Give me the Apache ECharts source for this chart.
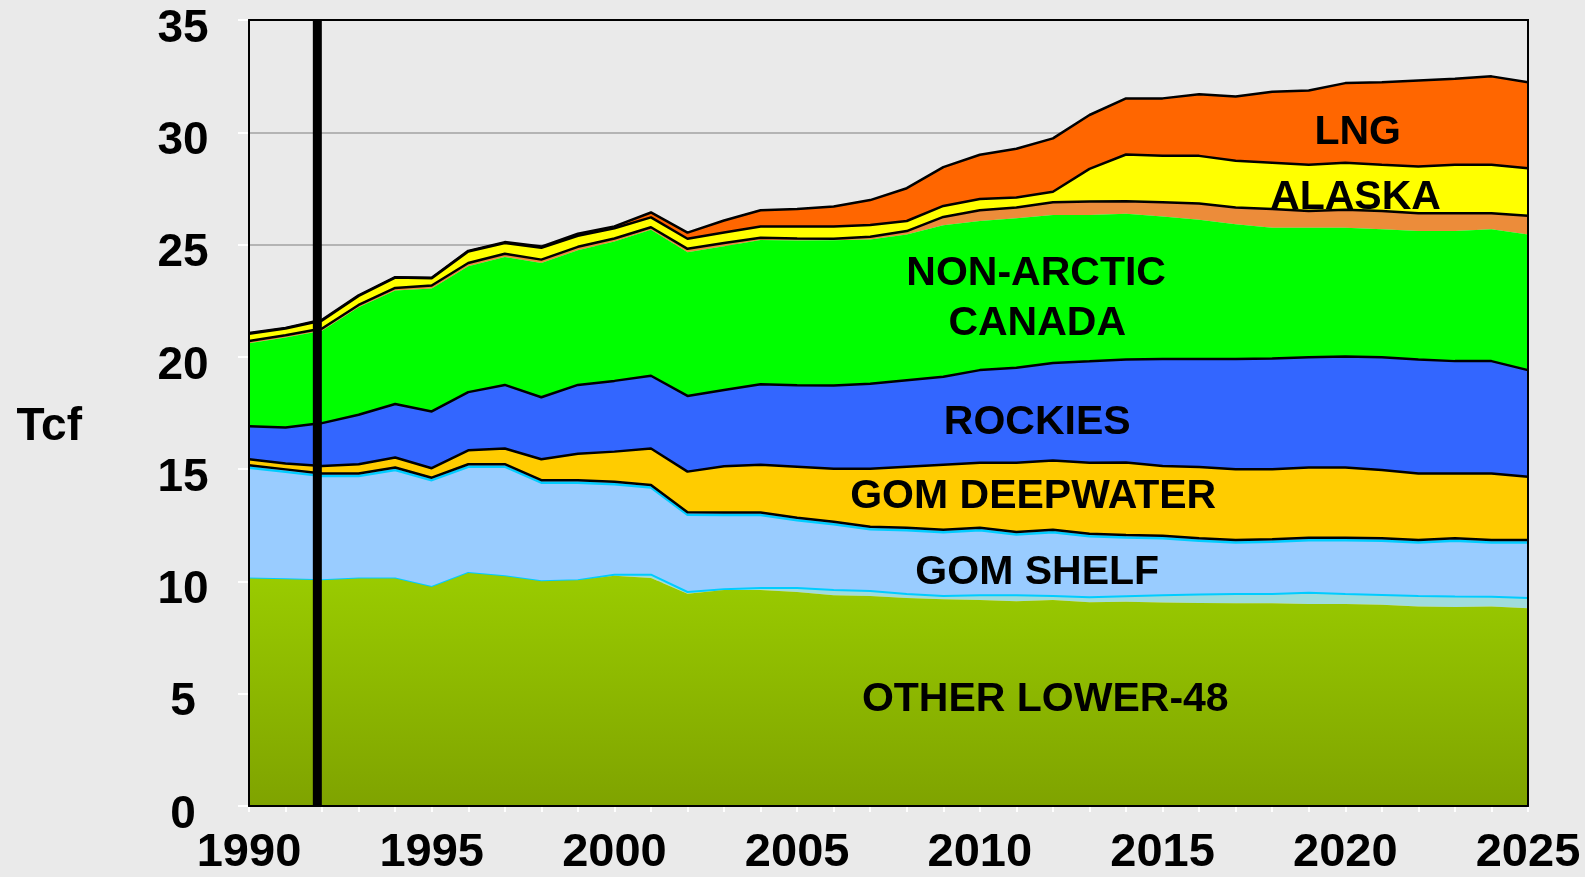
<!DOCTYPE html>
<html>
<head>
<meta charset="utf-8">
<script src="https://cdn.jsdelivr.net/npm/echarts@6/dist/echarts.min.js"></script>
<style>
html,body{margin:0;padding:0;background:#EAEAEA;}
#chart{width:1585px;height:877px;}
</style>
</head>
<body>
<div id="chart"></div>
<script>
// ---- DATA (Tcf) ----
const years = [1990,1991,1992,1993,1994,1995,1996,1997,1998,1999,
               2000,2001,2002,2003,2004,2005,2006,2007,2008,2009,
               2010,2011,2012,2013,2014,2015,2016,2017,2018,2019,
               2020,2021,2022,2023,2024,2025];

const otherLower48 = [10.13,10.10,10.05,10.13,10.13,9.75,10.38,10.23,10.01,10.05,
                      10.25,10.15,9.45,9.62,9.62,9.53,9.39,9.35,9.26,9.21,
                      9.17,9.12,9.17,9.07,9.10,9.06,9.04,9.03,9.03,9.00,
                      9.00,8.96,8.88,8.86,8.88,8.81];
const otherMinor = [0,0,0,0,0,0,0,0,0,0,
                    0.05,0.15,0.08,0.03,0.09,0.18,0.23,0.22,0.18,0.14,
                    0.22,0.27,0.18,0.23,0.24,0.32,0.38,0.41,0.41,0.50,
                    0.44,0.44,0.47,0.47,0.44,0.45];
const gomShelf = [5.04,4.89,4.76,4.68,4.94,4.87,4.84,4.99,4.50,4.46,
                  4.14,3.99,3.55,3.42,3.36,3.13,3.04,2.86,2.95,2.95,
                  3.00,2.81,2.95,2.82,2.73,2.65,2.50,2.41,2.44,2.45,
                  2.51,2.52,2.50,2.59,2.53,2.59];
const gomDeepwater = [0.27,0.26,0.33,0.41,0.45,0.42,0.62,0.70,0.93,1.18,
                      1.34,1.63,1.81,2.06,2.13,2.27,2.36,2.59,2.72,2.90,
                      2.90,3.09,3.08,3.17,3.23,3.11,3.17,3.14,3.11,3.12,
                      3.12,3.04,2.96,2.89,2.96,2.81];
const rockies = [1.47,1.60,1.91,2.20,2.38,2.53,2.59,2.83,2.76,3.06,
                 3.15,3.24,3.37,3.39,3.58,3.63,3.71,3.78,3.85,3.91,
                 4.12,4.22,4.35,4.51,4.58,4.77,4.82,4.92,4.94,4.91,
                 4.95,5.02,5.07,5.00,5.00,4.75];
const nonArcticCanada = [3.70,4.01,4.11,4.79,5.05,5.47,5.60,5.70,5.98,6.00,
                         6.21,6.50,6.40,6.41,6.42,6.44,6.46,6.43,6.49,6.75,
                         6.64,6.66,6.59,6.52,6.49,6.34,6.19,5.99,5.82,5.77,
                         5.73,5.70,5.72,5.79,5.87,6.04];
const arcticCanada = [0.10,0.10,0.10,0.10,0.12,0.14,0.15,0.14,0.15,0.15,
                      0.13,0.11,0.15,0.14,0.10,0.09,0.07,0.12,0.15,0.37,
                      0.48,0.48,0.56,0.60,0.56,0.64,0.73,0.75,0.83,0.75,
                      0.80,0.82,0.80,0.80,0.72,0.83];
const alaska = [0.32,0.30,0.36,0.40,0.46,0.32,0.51,0.48,0.53,0.49,
                0.46,0.44,0.45,0.47,0.50,0.53,0.54,0.52,0.45,0.49,
                0.50,0.45,0.47,1.45,2.08,2.06,2.12,2.08,2.06,2.05,
                2.09,2.05,2.08,2.15,2.15,2.12];
const lng = [0.03,0.03,0.03,0.03,0.02,0.02,0.03,0.04,0.05,0.09,
             0.08,0.22,0.27,0.53,0.73,0.78,0.90,1.11,1.46,1.73,
             1.97,2.17,2.38,2.40,2.50,2.56,2.74,2.86,3.17,3.31,
             3.55,3.68,3.83,3.83,3.94,3.83];

const dividerYear = 1991.87;
const yTicks = [0,5,10,15,20,25,30,35];
const xTickStep = 5;

// in-area text labels (anchored in data coordinates)
const areaLabels = [
  {name:'LNG', at:[2020.34, 29.99]},
  {name:'ALASKA', at:[2020.28, 27.07]},
  {name:'NON-ARCTIC', at:[2011.54, 23.69]},
  {name:'CANADA', at:[2011.57, 21.48]},
  {name:'ROCKIES', at:[2011.57, 17.07]},
  {name:'GOM DEEPWATER', at:[2011.46, 13.79]},
  {name:'GOM SHELF', at:[2011.57, 10.41]},
  {name:'OTHER LOWER-48', at:[2011.79, 4.74]}
];

// ---- CHART ----
const FONT = '"Liberation Sans", Arial, sans-serif';
const firstYear = years[0], lastYear = years[years.length - 1];
const yMin = yTicks[0], yMax = yTicks[yTicks.length - 1];

const layers = [
  {name:'Other Lower-48', values: otherLower48,
   fill: new echarts.graphic.LinearGradient(0,0,0,1,[{offset:0,color:'#9ACC00'},{offset:1,color:'#7FA300'}]),
   line: null},
  {name:'Other', values: otherMinor, fill:'#A0DCDC', line:{color:'#00CCFF', width:2}},
  {name:'GOM Shelf', values: gomShelf, fill:'#99CCFF',
   line:{color:'#000', width:2.5, shadowColor:'#00CCFF', shadowOffsetY:2.5, shadowBlur:0}},
  {name:'GOM Deepwater', values: gomDeepwater, fill:'#FFCC00', line:{color:'#000', width:2.5}},
  {name:'Rockies', values: rockies, fill:'#3366FF', line:{color:'#000', width:2.5}},
  {name:'Non-Arctic Canada', values: nonArcticCanada, fill:'#00FF00', line:null},
  {name:'Arctic Canada', values: arcticCanada, fill:'#EC8C3A', line:{color:'#000', width:2.5}},
  {name:'Alaska', values: alaska, fill:'#FFFF00', line:{color:'#000', width:2.5}},
  {name:'LNG', values: lng, fill:'#FF6600', line:{color:'#000', width:2.5}}
];

const series = layers.map((l, i) => ({
  type:'line',
  name:l.name,
  stack:'total',
  xAxisIndex:0,
  yAxisIndex:0,
  data: l.values,
  symbol:'none',
  showSymbol:false,
  smooth:false,
  z: 20 - i,
  silent:true,
  lineStyle: l.line ? l.line : {width:0, opacity:0},
  areaStyle: {color:l.fill, opacity:1},
  emphasis:{disabled:true}
}));

series.push({
  type:'line',
  name:'divider',
  xAxisIndex:1,
  yAxisIndex:0,
  data:[[dividerYear, yMin], [dividerYear, yMax]],
  symbol:'none',
  z:40,
  silent:true,
  clip:false,
  lineStyle:{color:'#000', width:9, cap:'butt'}
});

series.push({
  type:'scatter',
  name:'labels',
  xAxisIndex:1,
  yAxisIndex:0,
  symbolSize:1,
  itemStyle:{color:'rgba(0,0,0,0)', opacity:1},
  z:50,
  silent:true,
  data: areaLabels.map(a => ({name:a.name, value:a.at})),
  label:{
    show:true, position:'inside', formatter:'{b}', opacity:1,
    color:'#000', fontFamily:FONT, fontWeight:'bold', fontSize:41
  }
});

const option = {
  backgroundColor:'#EAEAEA',
  animation:false,
  grid:{left:249, right:57, top:20, bottom:71, show:true, borderColor:'#000', borderWidth:2, backgroundColor:'transparent'},
  xAxis:[{
    type:'category', data: years.map(String), boundaryGap:false, position:'bottom',
    axisLine:{show:true, lineStyle:{color:'#000', width:2}},
    axisTick:{show:true, interval:0, length:6, lineStyle:{color:'#FFFFFF', width:2}},
    axisLabel:{interval:xTickStep - 1, color:'#000', fontFamily:FONT, fontWeight:'bold', fontSize:47, margin:24},
    splitLine:{show:false}
  },{
    type:'value', min:firstYear, max:lastYear, position:'bottom', z:30,
    axisLine:{show:true, onZero:false, lineStyle:{color:'#000', width:2}},
    axisTick:{show:false}, axisLabel:{show:false}, splitLine:{show:false}
  },{
    type:'value', min:firstYear, max:lastYear, position:'top', z:30,
    axisLine:{show:true, onZero:false, lineStyle:{color:'#000', width:2}},
    axisTick:{show:false}, axisLabel:{show:false}, splitLine:{show:false}
  }],
  yAxis:[{
    type:'value', min:yMin, max:yMax, interval:5,
    axisLine:{show:true, onZero:false, lineStyle:{color:'#000', width:2}},
    axisTick:{show:true, length:11, lineStyle:{color:'#FFFFFF', width:2}},
    axisLabel:{color:'#000', fontFamily:FONT, fontWeight:'bold', fontSize:46, margin:66, align:'center',
               verticalAlign:'top', lineHeight:18},
    splitLine:{show:true, lineStyle:{color:'#B4B4B4', width:2}},
    name:'Tcf', nameLocation:'middle', nameRotate:0, nameGap:167,
    nameTextStyle:{color:'#000', fontFamily:FONT, fontWeight:'bold', fontSize:46, verticalAlign:'top', lineHeight:28}
  },{
    type:'value', min:yMin, max:yMax, position:'left', z:30,
    axisLine:{show:true, onZero:false, lineStyle:{color:'#000', width:2}},
    axisTick:{show:false}, axisLabel:{show:false}, splitLine:{show:false}
  },{
    type:'value', min:yMin, max:yMax, position:'right', z:30,
    axisLine:{show:true, onZero:false, lineStyle:{color:'#000', width:2}},
    axisTick:{show:false}, axisLabel:{show:false}, splitLine:{show:false}
  }],
  series: series
};

const chart = echarts.init(document.getElementById('chart'), null, {renderer:'canvas', width:1585, height:877});
chart.setOption(option);
</script>
</body>
</html>
